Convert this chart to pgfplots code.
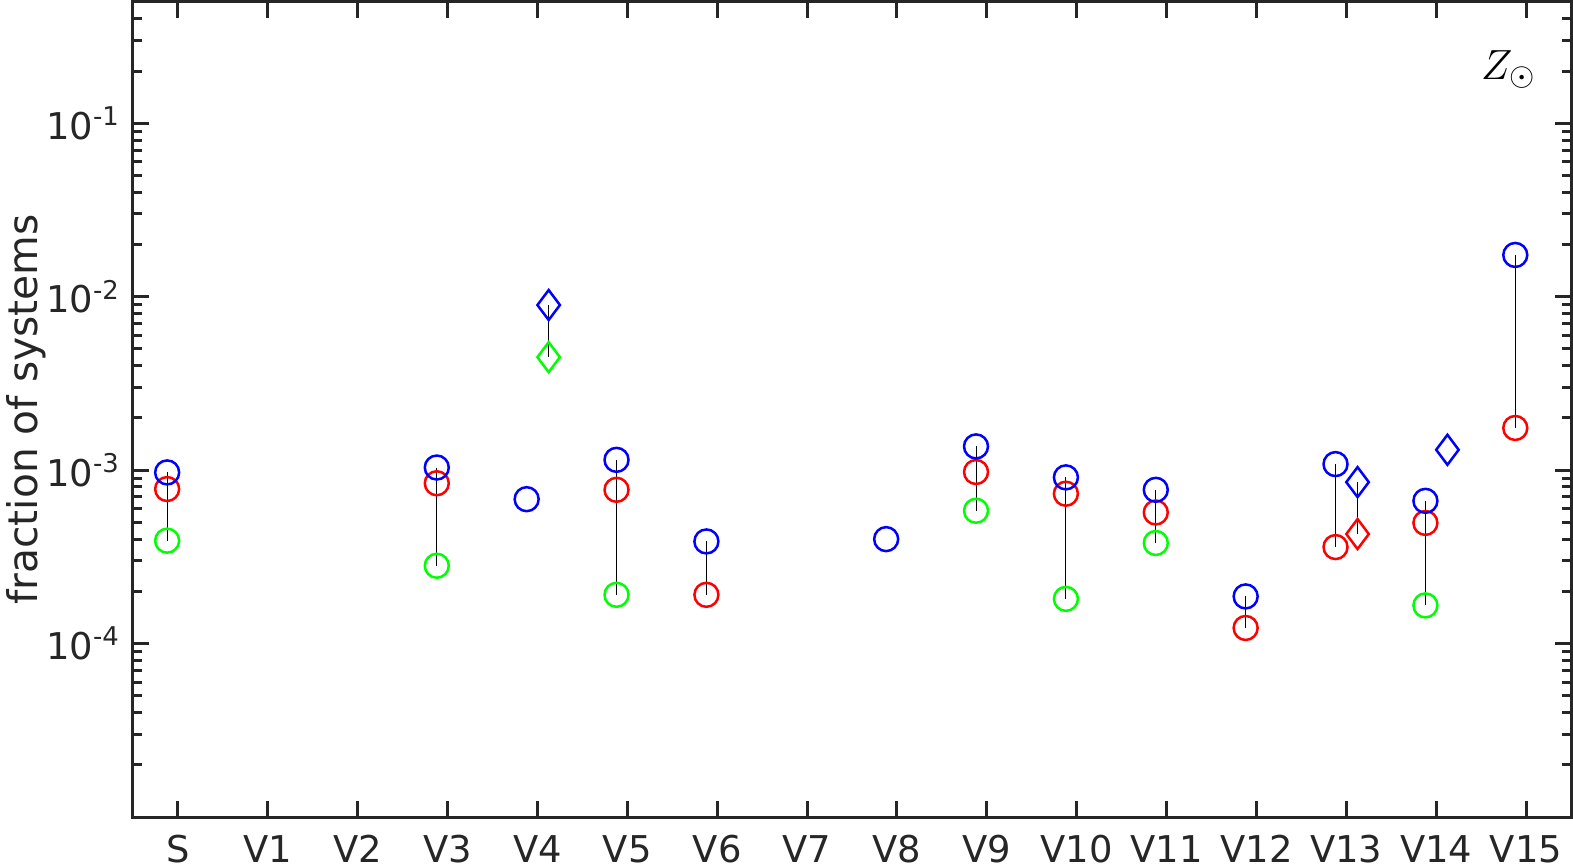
\documentclass[border=0pt]{standalone}
\usepackage{fontspec}
\setmainfont{DejaVu Sans}
\usepackage{pgfplots}
\pgfplotsset{compat=1.18}
\definecolor{axgray}{RGB}{38,38,38}

\begin{document}
\begin{tikzpicture}
\begin{axis}[
  at={(0,0)}, anchor=south west,
  scale only axis, width=143.8mm, height=81.5mm,
  xmin=0.5, xmax=16.5,
  ymode=log, ymin=1e-5, ymax=0.5,
  xtick={1,...,16},
  xticklabels={S,V1,V2,V3,V4,V5,V6,V7,V8,V9,V10,V11,V12,V13,V14,V15},
  ytick={1e-5,1e-4,1e-3,1e-2,1e-1},
  yticklabels={,10\textsuperscript{-4},10\textsuperscript{-3},10\textsuperscript{-2},10\textsuperscript{-1}},
  minor ytick={2e-5,3e-5,4e-5,5e-5,6e-5,7e-5,8e-5,9e-5,
               2e-4,3e-4,4e-4,5e-4,6e-4,7e-4,8e-4,9e-4,
               2e-3,3e-3,4e-3,5e-3,6e-3,7e-3,8e-3,9e-3,
               2e-2,3e-2,4e-2,5e-2,6e-2,7e-2,8e-2,9e-2,
               0.2,0.3,0.4},
  tick align=inside,
  axis line style={axgray, line width=0.3mm},
  major tick length=1.6mm, minor tick length=0.9mm,
  every tick/.style={axgray, line width=0.3mm},
  ticklabel style={font=\fontsize{10.5}{12}\selectfont, text=axgray},
  xticklabel style={yshift=-0.6mm},
  ylabel={fraction of systems},
  ylabel style={at={(rel axis cs:-0.0885,0.5)}, anchor=north, inner sep=0pt,
                font=\fontsize{11.6}{13}\selectfont, text=axgray},
  clip=false,
]
% circles, offset left of each category
\addplot[only marks, mark=o, color=green, mark size=1.2mm, line width=0.25mm] coordinates {
  (0.88,3.92e-4) (3.88,2.81e-4) (5.88,1.91e-4) (9.88,5.83e-4)
  (10.88,1.81e-4) (11.88,3.80e-4) (14.88,1.66e-4)
};
\addplot[only marks, mark=o, color=red, mark size=1.2mm, line width=0.25mm] coordinates {
  (0.88,7.78e-4) (3.88,8.4e-4) (5.88,7.7e-4) (6.88,1.91e-4) (9.88,9.75e-4)
  (10.88,7.31e-4) (11.88,5.70e-4) (12.88,1.23e-4) (13.88,3.60e-4)
  (14.88,4.96e-4) (15.88,1.75e-3)
};
\addplot[only marks, mark=o, color=blue, mark size=1.2mm, line width=0.25mm] coordinates {
  (0.88,9.7e-4) (3.88,1.035e-3) (4.88,6.8e-4) (5.88,1.146e-3) (6.88,3.88e-4)
  (8.88,4.0e-4) (9.88,1.37e-3) (10.88,9.08e-4) (11.88,7.7e-4) (12.88,1.87e-4)
  (13.88,1.083e-3) (14.88,6.65e-4) (15.88,1.74e-2)
};
% diamonds, offset right
\addplot[only marks, mark=diamond, color=green, mark size=1.5mm, line width=0.25mm] coordinates {
  (5.125,4.48e-3)
};
\addplot[only marks, mark=diamond, color=red, mark size=1.5mm, line width=0.25mm] coordinates {
  (14.125,4.28e-4)
};
\addplot[only marks, mark=diamond, color=blue, mark size=1.5mm, line width=0.25mm] coordinates {
  (5.125,8.95e-3) (14.125,8.53e-4) (15.125,1.31e-3)
};
% spread lines from highest to lowest value
\addplot[black, line width=0.1mm, mark=none, unbounded coords=jump] coordinates {
  (0.88,9.7e-4) (0.88,3.92e-4) (nan,nan)
  (3.88,1.035e-3) (3.88,2.81e-4) (nan,nan)
  (5.125,8.95e-3) (5.125,4.48e-3) (nan,nan)
  (5.88,1.146e-3) (5.88,1.91e-4) (nan,nan)
  (6.88,3.88e-4) (6.88,1.91e-4) (nan,nan)
  (9.88,1.37e-3) (9.88,5.83e-4) (nan,nan)
  (10.88,9.08e-4) (10.88,1.81e-4) (nan,nan)
  (11.88,7.7e-4) (11.88,3.80e-4) (nan,nan)
  (12.88,1.87e-4) (12.88,1.23e-4) (nan,nan)
  (13.88,1.083e-3) (13.88,3.60e-4) (nan,nan)
  (14.125,8.53e-4) (14.125,4.28e-4) (nan,nan)
  (14.88,6.65e-4) (14.88,1.66e-4) (nan,nan)
  (15.88,1.74e-2) (15.88,1.75e-3)
};
\node[anchor=base west, inner sep=0pt, font=\fontsize{13}{15}\selectfont] at (rel axis cs:0.937,0.9055) {$Z_\odot$};
\end{axis}
\pgfresetboundingbox
\path (-13.3mm,-4.7mm) rectangle (144.0mm,81.7mm);
\end{tikzpicture}
\end{document}
